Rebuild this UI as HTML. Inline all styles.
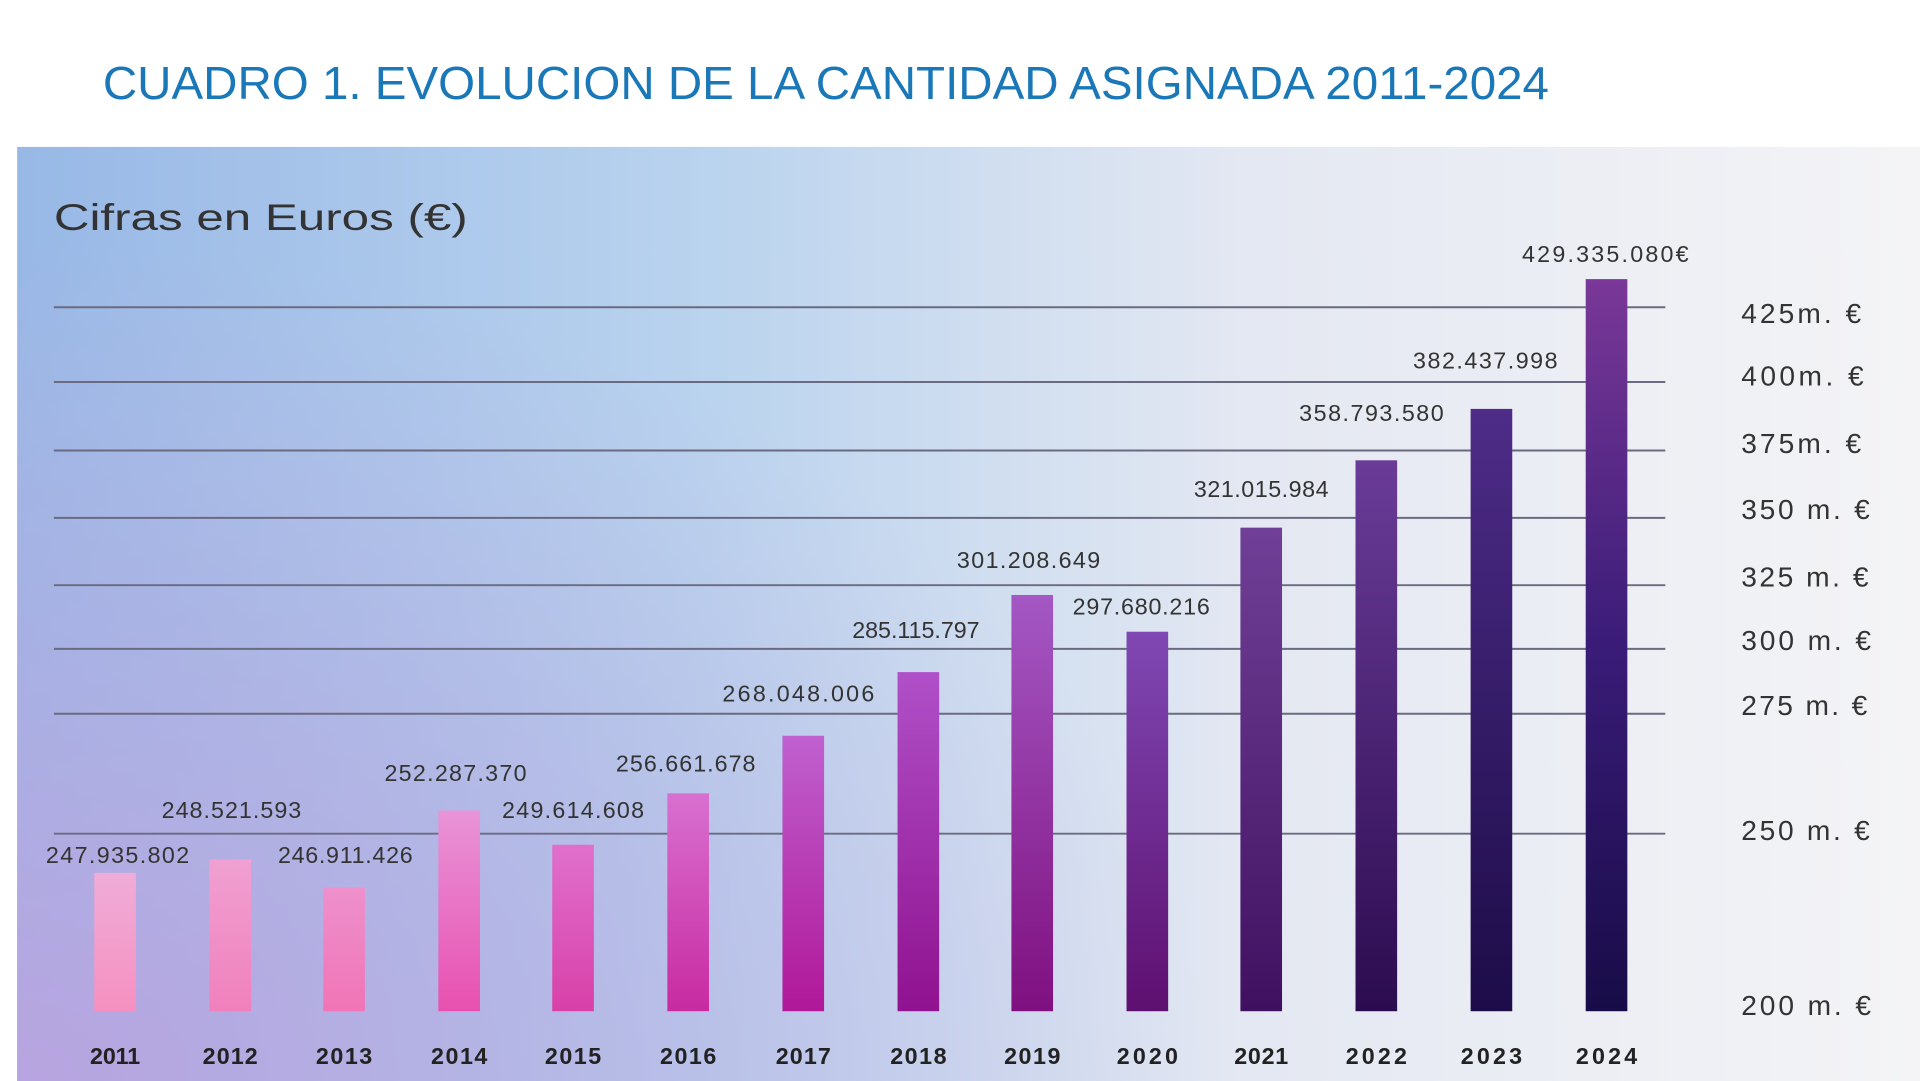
<!DOCTYPE html>
<html><head><meta charset="utf-8"><style>
html,body{margin:0;padding:0;background:#fff;}
svg{display:block;}
</style></head><body>
<svg width="1920" height="1081" viewBox="0 0 1568 883" preserveAspectRatio="none" xmlns="http://www.w3.org/2000/svg">
<defs>
<linearGradient id="bgH" x1="0" y1="0" x2="1" y2="0">
<stop offset="0" stop-color="#98b8e6"/>
<stop offset="0.35" stop-color="#b8d2ee"/>
<stop offset="0.65" stop-color="#e4e8f2"/>
<stop offset="1" stop-color="#f4f4f6"/>
</linearGradient>
<radialGradient id="bgP" cx="0" cy="1" r="0.9" gradientTransform="scale(0.7,1)">
<stop offset="0" stop-color="#b8a4e0" stop-opacity="1"/>
<stop offset="0.6" stop-color="#b8a8e0" stop-opacity="0.4"/>
<stop offset="1" stop-color="#c0b0e0" stop-opacity="0"/>
</radialGradient>
<linearGradient id="g0" x1="0" y1="0" x2="0" y2="1"><stop offset="0" stop-color="#f0acd8"/><stop offset="1" stop-color="#f590c0"/></linearGradient>
<linearGradient id="g1" x1="0" y1="0" x2="0" y2="1"><stop offset="0" stop-color="#f0a0d2"/><stop offset="1" stop-color="#f080bc"/></linearGradient>
<linearGradient id="g2" x1="0" y1="0" x2="0" y2="1"><stop offset="0" stop-color="#ee90cc"/><stop offset="1" stop-color="#f074b6"/></linearGradient>
<linearGradient id="g3" x1="0" y1="0" x2="0" y2="1"><stop offset="0" stop-color="#e894d8"/><stop offset="1" stop-color="#e850b0"/></linearGradient>
<linearGradient id="g4" x1="0" y1="0" x2="0" y2="1"><stop offset="0" stop-color="#e070cc"/><stop offset="1" stop-color="#d840a8"/></linearGradient>
<linearGradient id="g5" x1="0" y1="0" x2="0" y2="1"><stop offset="0" stop-color="#d870d0"/><stop offset="1" stop-color="#c82aa0"/></linearGradient>
<linearGradient id="g6" x1="0" y1="0" x2="0" y2="1"><stop offset="0" stop-color="#c060d0"/><stop offset="1" stop-color="#b01898"/></linearGradient>
<linearGradient id="g7" x1="0" y1="0" x2="0" y2="1"><stop offset="0" stop-color="#b050c8"/><stop offset="1" stop-color="#901290"/></linearGradient>
<linearGradient id="g8" x1="0" y1="0" x2="0" y2="1"><stop offset="0" stop-color="#a458c4"/><stop offset="1" stop-color="#801080"/></linearGradient>
<linearGradient id="g9" x1="0" y1="0" x2="0" y2="1"><stop offset="0" stop-color="#8048b4"/><stop offset="1" stop-color="#5e1070"/></linearGradient>
<linearGradient id="g10" x1="0" y1="0" x2="0" y2="1"><stop offset="0" stop-color="#704098"/><stop offset="1" stop-color="#401060"/></linearGradient>
<linearGradient id="g11" x1="0" y1="0" x2="0" y2="1"><stop offset="0" stop-color="#6a3c98"/><stop offset="1" stop-color="#2c0c50"/></linearGradient>
<linearGradient id="g12" x1="0" y1="0" x2="0" y2="1"><stop offset="0" stop-color="#4e2c88"/><stop offset="1" stop-color="#1c0c48"/></linearGradient>
<linearGradient id="g13" x1="0" y1="0" x2="0" y2="1"><stop offset="0" stop-color="#7a3898"/><stop offset="0.5" stop-color="#3a1c78"/><stop offset="1" stop-color="#180c48"/></linearGradient>
</defs>
<rect x="0" y="0" width="1568" height="883" fill="#fff"/>
<text x="84" y="81" font-family="Liberation Sans, sans-serif" font-size="38" fill="#1a78b8" textLength="1181" lengthAdjust="spacingAndGlyphs">CUADRO 1. EVOLUCION DE LA CANTIDAD ASIGNADA 2011-2024</text>
<rect x="14" y="120" width="1554" height="763" fill="url(#bgH)"/>
<rect x="14" y="120" width="1554" height="763" fill="url(#bgP)"/>
<text x="44" y="188" font-family="Liberation Sans, sans-serif" font-size="30" fill="#333" textLength="338" lengthAdjust="spacingAndGlyphs">Cifras en Euros (€)</text>
<g stroke="#6a6a80" stroke-width="1.6">
<line x1="44" y1="251" x2="1360" y2="251"/>
<line x1="44" y1="312" x2="1360" y2="312"/>
<line x1="44" y1="368" x2="1360" y2="368"/>
<line x1="44" y1="423" x2="1360" y2="423"/>
<line x1="44" y1="478" x2="1360" y2="478"/>
<line x1="44" y1="530" x2="1360" y2="530"/>
<line x1="44" y1="583" x2="1360" y2="583"/>
<line x1="44" y1="681" x2="1360" y2="681"/>
</g>
<g font-family="Liberation Sans, sans-serif" font-size="23" fill="#333" lengthAdjust="spacingAndGlyphs">
<text x="1422" y="264" textLength="98">425m. €</text>
<text x="1422" y="315" textLength="100">400m. €</text>
<text x="1422" y="370" textLength="98">375m. €</text>
<text x="1422" y="424" textLength="105">350 m. €</text>
<text x="1422" y="479" textLength="104">325 m. €</text>
<text x="1422" y="531" textLength="106">300 m. €</text>
<text x="1422" y="584" textLength="103">275 m. €</text>
<text x="1422" y="686" textLength="105">250 m. €</text>
<text x="1422" y="829" textLength="106">200 m. €</text>
</g>
<g>
<rect x="77" y="713" width="34" height="113" fill="url(#g0)"/>
<rect x="171" y="702" width="34" height="124" fill="url(#g1)"/>
<rect x="264" y="725" width="34" height="101" fill="url(#g2)"/>
<rect x="358" y="662" width="34" height="164" fill="url(#g3)"/>
<rect x="451" y="690" width="34" height="136" fill="url(#g4)"/>
<rect x="545" y="648" width="34" height="178" fill="url(#g5)"/>
<rect x="639" y="601" width="34" height="225" fill="url(#g6)"/>
<rect x="733" y="549" width="34" height="277" fill="url(#g7)"/>
<rect x="826" y="486" width="34" height="340" fill="url(#g8)"/>
<rect x="920" y="516" width="34" height="310" fill="url(#g9)"/>
<rect x="1013" y="431" width="34" height="395" fill="url(#g10)"/>
<rect x="1107" y="376" width="34" height="450" fill="url(#g11)"/>
<rect x="1201" y="334" width="34" height="492" fill="url(#g12)"/>
<rect x="1295" y="228" width="34" height="598" fill="url(#g13)"/>
</g>
<g font-family="Liberation Sans, sans-serif" font-size="19" fill="#333" text-anchor="middle" lengthAdjust="spacingAndGlyphs">
<text x="96" y="705" textLength="117">247.935.802</text>
<text x="189" y="668" textLength="114">248.521.593</text>
<text x="282" y="705" textLength="110">246.911.426</text>
<text x="372" y="638" textLength="116">252.287.370</text>
<text x="468" y="668" textLength="116">249.614.608</text>
<text x="560" y="630" textLength="114">256.661.678</text>
<text x="652" y="573" textLength="124">268.048.006</text>
<text x="748" y="521" textLength="104">285.115.797</text>
<text x="840" y="464" textLength="117">301.208.649</text>
<text x="932" y="502" textLength="112">297.680.216</text>
<text x="1030" y="406" textLength="110">321.015.984</text>
<text x="1120" y="344" textLength="118">358.793.580</text>
<text x="1213" y="301" textLength="118">382.437.998</text>
<text x="1311" y="214" textLength="136">429.335.080€</text>
</g>
<g font-family="Liberation Sans, sans-serif" font-size="19" font-weight="bold" fill="#222" text-anchor="middle" lengthAdjust="spacingAndGlyphs">
<text x="94" y="869" textLength="41">2011</text>
<text x="188" y="869" textLength="45">2012</text>
<text x="281" y="869" textLength="46">2013</text>
<text x="375" y="869" textLength="46">2014</text>
<text x="468" y="869" textLength="46">2015</text>
<text x="562" y="869" textLength="46">2016</text>
<text x="656" y="869" textLength="45">2017</text>
<text x="750" y="869" textLength="46">2018</text>
<text x="843" y="869" textLength="46">2019</text>
<text x="937" y="869" textLength="50">2020</text>
<text x="1030" y="869" textLength="44">2021</text>
<text x="1124" y="869" textLength="50">2022</text>
<text x="1218" y="869" textLength="50">2023</text>
<text x="1312" y="869" textLength="50">2024</text>
</g>
</svg>
</body></html>
